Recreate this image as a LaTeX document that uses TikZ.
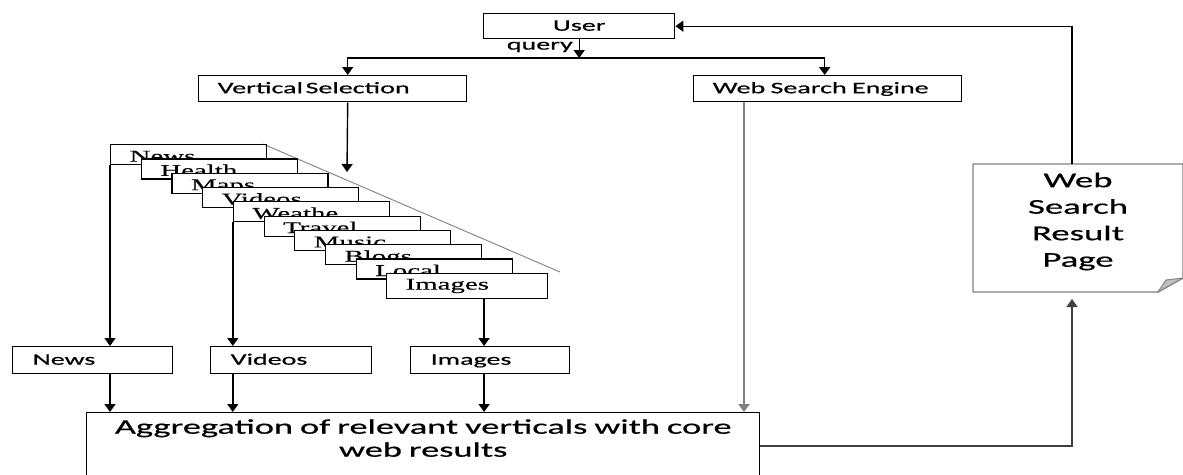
\documentclass[tikz,border=0pt]{standalone}
\usepackage{fontspec}
\setmainfont{Carlito}[FakeStretch=1.75, FakeBold=0.6]
\newfontfamily\stackfont[FakeStretch=1.75, FakeBold=0.3]{Liberation Serif}
\usepackage{tikz}
\usetikzlibrary{arrows,arrows.meta}

\tikzset{
  box/.style={draw, line width=1.4pt, fill=white, inner ysep=0pt,
    text height=12pt, text depth=3pt, font=\fontsize{16}{19}\selectfont},
  leftbox/.style={box, align=left, anchor=north west, inner xsep=19pt},
  stackbox/.style={draw, line width=1.2pt, fill=white, anchor=north west,
    align=left, text width=118pt, inner xsep=19pt, inner ysep=2pt,
    minimum height=20pt, text height=14pt, text depth=0pt,
    font=\stackfont\fontsize{16.5}{19}\selectfont},
  arr/.style={-{Triangle[width=11pt,length=8pt]}, line width=1.4pt},
  lbl/.style={inner sep=0pt, font=\fontsize{16}{19}\selectfont}
}

\begin{document}
\begin{tikzpicture}[x=1pt,y=-1pt]
\useasboundingbox (0,0) rectangle (1183,474);

% top row
\node[box, minimum width=191pt, minimum height=25pt, anchor=north west] (user) at (483,13) {User};
\node[leftbox, text width=230pt, minimum height=26pt] (vsel) at (198,75) {Vertical\,Selection};
\node[leftbox, text width=230pt, minimum height=26pt] (wse) at (693,75) {Web Search Engine};

\coordinate (split) at (user.south |- 0,58);
\draw[arr] (user.south) -- (split);
\node[lbl, anchor=east] (query) at (573,47) {query};
\draw[arr] (split) -| ([xshift=15pt]vsel.north);
\draw[arr] (split) -| ([xshift=-3pt]wse.north);

% the stack of verticals
\coordinate (vsdrop) at (347,172);
\draw[arr] ([xshift=15pt]vsel.south) -- (vsdrop);
\draw[gray, line width=0.9pt] (263,144) -- (560,272);
\foreach \name [count=\i from 0] in {News,Health,Maps,Videos,Weathe,Travel,Music,Blogs,Local}
  \node[stackbox] (s\i) at (110+30.7*\i,144+14.3*\i) {\name};
\node[stackbox, text width=123pt, minimum height=25pt, text height=13pt, text depth=6pt] (s9) at (386,273) {Images};

% selected verticals
\node[leftbox, text width=120pt, minimum height=27pt, inner xsep=20pt] (vnews) at (12,346) {News};
\node[leftbox, text width=121pt, minimum height=27pt, inner xsep=20pt] (vvid) at (210,346) {Videos};
\node[leftbox, text width=119pt, minimum height=27pt, inner xsep=20pt] (vimg) at (410,346) {Images};

\draw[arr] (s0.south west) -- (s0.south west |- vnews.north);
\draw[arr] (s4.south west) -- (s4.south west |- vvid.north);
\coordinate (imgdrop) at ([xshift=17pt]s9.south);
\draw[arr] (imgdrop) -- (imgdrop |- vimg.north);

% aggregation
\node[draw, line width=1.4pt, anchor=north west, align=center, text width=673pt, inner xsep=0pt,
  inner ysep=0pt, text depth=50pt, font=\fontsize{20.8}{23}\selectfont] (aggr) at (86,412)
  {\rule{0pt}{21pt}Aggregation of relevant verticals with core\\web results};

\draw[arr] (s0.south west |- vnews.south) -- (s0.south west |- aggr.north);
\draw[arr] (s4.south west |- vvid.south) -- (s4.south west |- aggr.north);
\draw[arr] (imgdrop |- vimg.south) -- (imgdrop |- aggr.north);
\coordinate (wsedrop) at ([xshift=51pt]wse.south west);
\draw[arr, gray, line width=2.2pt] (wsedrop) -- (wsedrop |- aggr.north);

% result page
\node[anchor=north, align=center, inner sep=0pt, font=\fontsize{21}{26.5}\selectfont] (page) at (1078,164)
  {\rule{0pt}{23pt}Web\\Search\\Result\\Page};
\coordinate (pnw) at (973,164);
\coordinate (pse) at (1183,292);
\draw[gray, line width=1.4pt] (pnw) -- (pnw -| pse) -- (1183,278) -- (1158,292) -- (pnw |- pse) -- cycle;
\filldraw[fill=lightgray, draw=gray, line width=0.9pt] (1158,292) -- (1166,280) -- (1183,278) -- cycle;

\coordinate (aggrout) at ([yshift=-34pt]aggr.north east);
\draw[arr, draw=darkgray] (aggrout) -| (1072,299);
\draw[arr] (1072,164) |- (user.east);
\end{tikzpicture}
\end{document}
